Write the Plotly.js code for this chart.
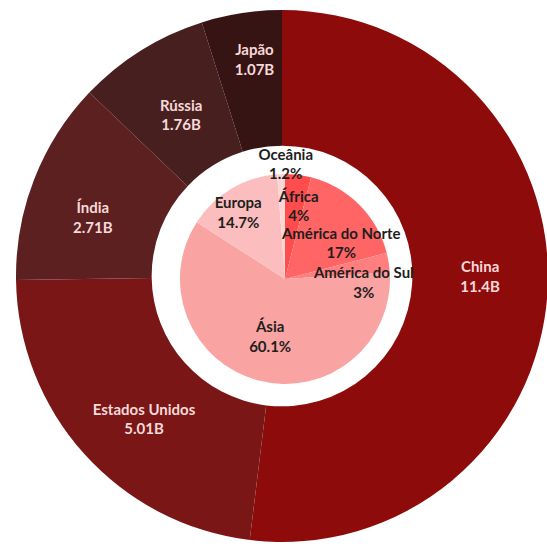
<!DOCTYPE html>
<html>
<head>
<meta charset="utf-8">
<script src="https://cdn.plot.ly/plotly-3.0.1.min.js"></script>
<style>
html, body { margin: 0; padding: 0; overflow: hidden; background: #ffffff; }
#chart { width: 560px; height: 548px; }
</style>
</head>
<body>
<div id="chart"></div>
<script>
// Outer ring: countries (values in billions)
const countries = ["China", "Estados Unidos", "Índia", "Rússia", "Japão"];
const countryValues = [11.4, 5.01, 2.71, 1.76, 1.07];
const countryColors = ["#8e0b0b", "#7a1616", "#5c2020", "#481f1f", "#361414"];

// Inner pie: continents (percent)
const continents = ["África", "América do Norte", "América do Sul", "Ásia", "Europa", "Oceânia"];
const continentValues = [4, 17, 3, 60.1, 14.7, 1.2];
const continentColors = ["#ff4d4d", "#ff6565", "#ff7f7f", "#f9a3a3", "#fbbdbd", "#fdd6d6"];

const fontFamily = "Lato, 'Open Sans', sans-serif";
const outerFont = { family: fontFamily, size: 15, color: "#f6d9d9", weight: 700 };
const innerFont = { family: fontFamily, size: 15, color: "#1e1e1e", weight: 700 };

// plot area geometry (pixels)
const W = 560, H = 548, ML = 16, MR = 12, MT = 10, MB = 6;
const PW = W - ML - MR, PH = H - MT - MB;
function dom(cx, cy, r) {
  return {
    x: [(cx - r - ML) / PW, (cx + r - ML) / PW],
    y: [(H - MB - (cy + r)) / PH, (H - MB - (cy - r)) / PH]
  };
}
const OUT = { cx: 282, cy: 276, r: 266 };
const IN = { cx: 285, cy: 279, r: 105 };

function basePie(labels, values, colors, g, hole) {
  return {
    type: "pie", labels: labels, values: values, hole: hole,
    sort: false, direction: "clockwise", rotation: 0,
    marker: { colors: colors, line: { width: 0 } },
    textinfo: "none", hoverinfo: "none",
    domain: dom(g.cx, g.cy, g.r), showlegend: false
  };
}
// transparent pie carrying only the labels of the chosen slices
// o = {r, hole, rot, dx, dy} : label placement tweaks
function labelPie(labels, values, tmpl, shown, g, o, font) {
  return {
    type: "pie", labels: labels, values: values, hole: o.hole || 0,
    sort: false, direction: "clockwise", rotation: o.rot || 0,
    marker: { colors: labels.map(() => "rgba(0,0,0,0)"), line: { width: 0 } },
    texttemplate: labels.map(l => shown.includes(l) ? tmpl : ""),
    textinfo: "none",
    textposition: "inside", insidetextorientation: "horizontal",
    textfont: font, hoverinfo: "none",
    domain: dom(g.cx + (o.dx || 0), g.cy + (o.dy || 0), o.r), showlegend: false
  };
}

const oT = "%{label}<br>%{value}B";
const iT = "%{label}<br>%{percent}";
const C = countries, CV = countryValues, K = continents, KV = continentValues;

const traces = [
  basePie(C, CV, countryColors, OUT, 0.49),
  basePie(K, KV, continentColors, IN, 0),
  labelPie(C, CV, oT, ["Estados Unidos", "Índia"], OUT, { r: 266, hole: 0.49, rot: -4 }, outerFont),
  labelPie(C, CV, oT, ["China"], OUT, { r: 266, hole: 0.49, rot: -3.5 }, outerFont),
  labelPie(C, CV, oT, ["Japão"], OUT, { r: 253, hole: 0.49, dx: 6 }, outerFont),
  labelPie(C, CV, oT, ["Rússia"], OUT, { r: 238, hole: 0.49 }, outerFont),
  labelPie(K, KV, iT, ["Ásia"], IN, { r: 118 }, innerFont),
  labelPie(K, KV, iT, ["Europa"], IN, { r: 118, dx: -5, dy: 3 }, innerFont),
  labelPie(K, KV, iT, ["Oceânia"], IN, { r: 118, dx: 5, dy: -2 }, innerFont),
  labelPie(K, KV, iT, ["América do Norte"], IN, { r: 100, rot: 5, dx: 5, dy: 6 }, innerFont),
  labelPie(K, KV, iT, ["África"], IN, { r: 84, rot: 3 }, innerFont),
  labelPie(K, KV, iT, ["América do Sul"], IN, { r: 84, rot: 3, dx: 2, dy: 11 }, innerFont)
];

const layout = {
  width: W, height: H,
  margin: { l: ML, r: MR, t: MT, b: MB },
  paper_bgcolor: "#ffffff", plot_bgcolor: "#ffffff",
  showlegend: false,
  uniformtext: { mode: "show", minsize: 15 }
};

Plotly.newPlot("chart", traces, layout, { displayModeBar: false, staticPlot: true });
</script>
</body>
</html>
